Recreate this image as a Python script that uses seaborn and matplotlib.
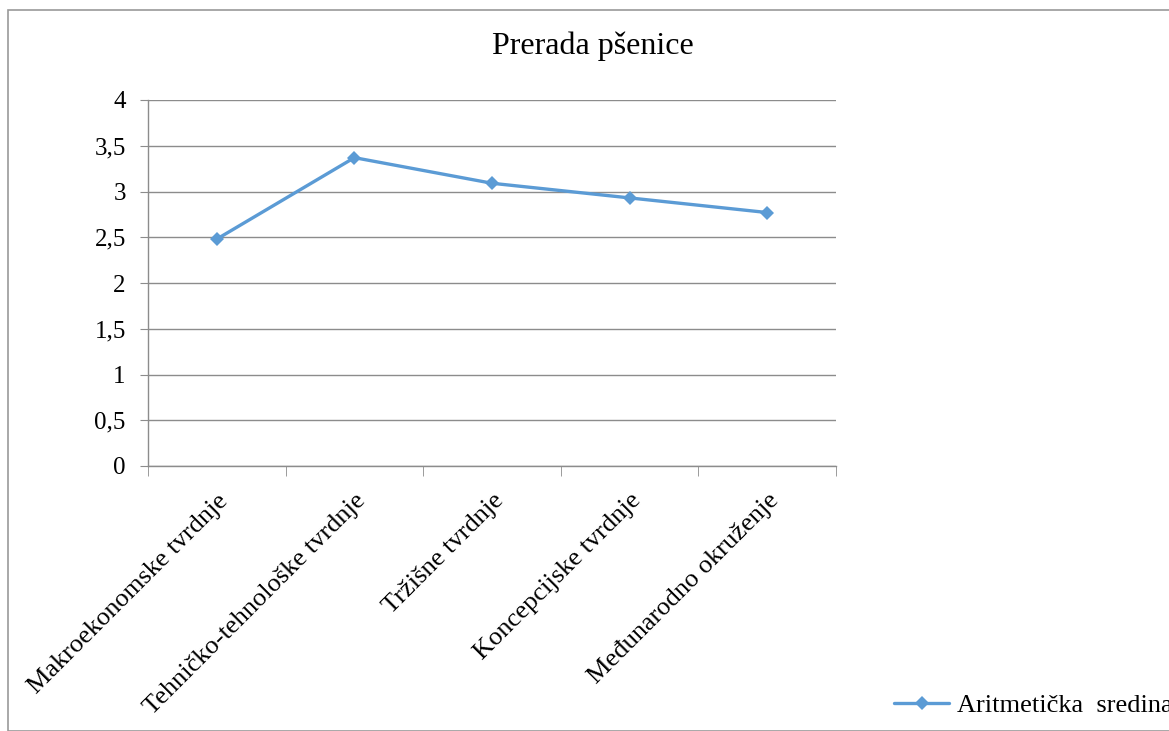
import matplotlib
matplotlib.use('Agg')
import numpy as np
import pandas as pd
import seaborn as sns
import matplotlib.pyplot as plt
from matplotlib.ticker import FuncFormatter, MultipleLocator
from matplotlib.patches import Rectangle

categories = ['Makroekonomske tvrdnje', 'Tehničko-tehnološke tvrdnje',
              'Tržišne tvrdnje', 'Koncepcijske tvrdnje', 'Međunarodno okruženje']
values = [2.48, 3.37, 3.09, 2.93, 2.77]
series_name = 'Aritmetička  sredina'
title = 'Prerada pšenice'

df = pd.DataFrame({'kategorija': categories, 'vrijednost': values})

sns.set_style('white')
plt.rcParams['font.family'] = ['Liberation Serif', 'DejaVu Serif']
plt.rcParams['text.color'] = 'black'
plt.rcParams['xtick.labelcolor'] = 'black'
plt.rcParams['ytick.labelcolor'] = 'black'

W, H = 1169, 731
fig = plt.figure(figsize=(W / 100, H / 100), dpi=100)
ax = fig.add_axes([148 / W, 1 - 466 / H, (836 - 148) / W, (466 - 100) / H])

sns.lineplot(data=df, x='kategorija', y='vrijednost', ax=ax, color='#5B9BD5',
             linewidth=2.4, marker='D', markersize=7.5, markeredgewidth=0,
             label=series_name, sort=False)

ax.set_xlim(-0.5, 4.5)
ax.set_ylim(0, 4)
ax.yaxis.set_major_locator(MultipleLocator(0.5))
ax.yaxis.set_major_formatter(FuncFormatter(lambda v, p: ('%g' % v).replace('.', ',')))
ax.grid(axis='y', color='#8c8c8c', linewidth=1)
ax.set_axisbelow(True)

for s in ['top', 'right']:
    ax.spines[s].set_visible(False)
for s in ['left', 'bottom']:
    ax.spines[s].set_color('#8c8c8c')
    ax.spines[s].set_linewidth(1)

ax.set_xticks(range(len(categories)))
ax.set_xticklabels(categories, rotation=45, ha='right', rotation_mode='anchor',
                   fontsize=19, color='black')
ax.set_xticks(np.arange(-0.5, 5, 1), minor=True)
ax.tick_params(axis='x', which='major', length=0, pad=17)
ax.tick_params(axis='x', which='minor', length=7, color='#8c8c8c', direction='out',
               bottom=True)
ax.tick_params(axis='y', length=6, color='#8c8c8c', direction='out', left=True,
               labelsize=18, pad=10, labelcolor='black')
ax.set_xlabel('')
ax.set_ylabel('')

fig.text(593 / W, 1 - 46 / H, title, ha='center', va='center', fontsize=23,
         color='black')

leg = ax.legend(loc='center left', bbox_to_anchor=(894 / W, 1 - 705 / H),
                bbox_transform=fig.transFigure, frameon=False, fontsize=19,
                borderpad=0, borderaxespad=0, handlelength=2.1, handletextpad=0.3)
for t in leg.get_texts():
    t.set_color('black')

fig.patches.append(Rectangle((8 / W, 0), 1.2, 1 - 10 / H, transform=fig.transFigure,
                             fill=False, edgecolor='#9a9a9a', linewidth=1.2))

fig.savefig('out.png', dpi=100)
